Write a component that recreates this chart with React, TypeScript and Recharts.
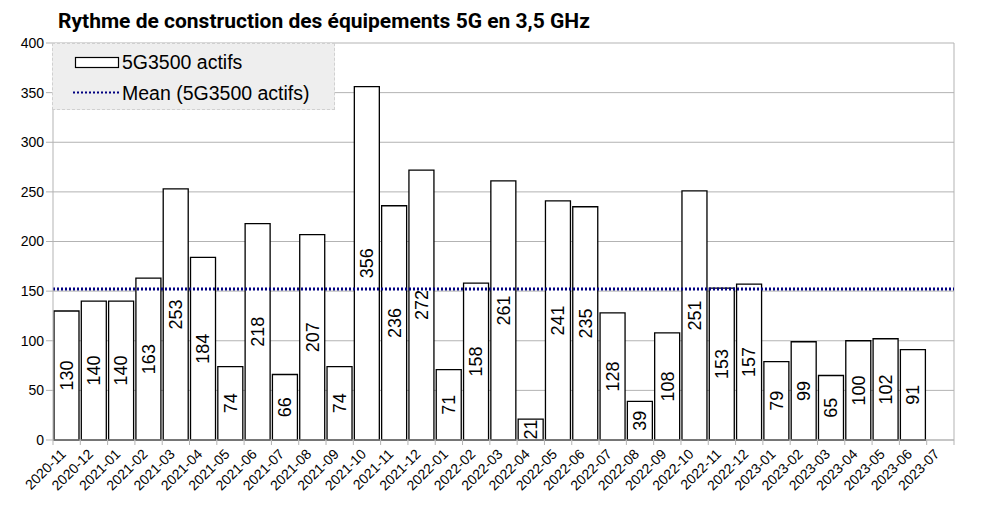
import React from 'react'
import { BarChart, Bar, XAxis, YAxis, CartesianGrid, ReferenceLine, LabelList } from 'recharts'

const MONTHS = [
  '2020-11', '2020-12',
  '2021-01', '2021-02', '2021-03', '2021-04', '2021-05', '2021-06',
  '2021-07', '2021-08', '2021-09', '2021-10', '2021-11', '2021-12',
  '2022-01', '2022-02', '2022-03', '2022-04', '2022-05', '2022-06',
  '2022-07', '2022-08', '2022-09', '2022-10', '2022-11', '2022-12',
  '2023-01', '2023-02', '2023-03', '2023-04', '2023-05', '2023-06', '2023-07',
]

// 5G3500 actifs par mois (2023-07 pas encore publié)
const ACTIFS_5G3500 = [
  130, 140,
  140, 163, 253, 184, 74, 218,
  66, 207, 74, 356, 236, 272,
  71, 158, 261, 21, 241, 235,
  128, 39, 108, 251, 153, 157,
  79, 99, 65, 100, 102, 91, null,
]

const Y_TICKS = [0, 50, 100, 150, 200, 250, 300, 350, 400]

const data = MONTHS.map((month, i) => ({ month, actifs: ACTIFS_5G3500[i] }))

const known = ACTIFS_5G3500.filter((v): v is number => v != null)
const MEAN = known.reduce((a, b) => a + b, 0) / known.length

const WIDTH = 985
const HEIGHT = 507
const PLOT_LEFT = 53
const PLOT_RIGHT = 954
const PLOT_TOP = 43
const PLOT_BOTTOM = 440
const SLOT = (PLOT_RIGHT - PLOT_LEFT) / MONTHS.length
const GRID = '#b3b3b3'
const FONT = '"Liberation Sans", Arial, sans-serif'

function MonthTick (props: any) {
  const { x, payload, index } = props
  const half = SLOT / 2
  const ty = PLOT_BOTTOM + 15
  return (
    <g>
      <line x1={x - half} x2={x - half} y1={PLOT_BOTTOM} y2={PLOT_BOTTOM + 5} stroke={GRID} />
      {index === MONTHS.length - 1 && (
        <line x1={x + half} x2={x + half} y1={PLOT_BOTTOM} y2={PLOT_BOTTOM + 5} stroke={GRID} />
      )}
      <text
        x={x}
        y={ty}
        transform={`rotate(-45, ${x}, ${ty})`}
        textAnchor="end"
        fontSize={14}
        fontFamily={FONT}
        fill="#000"
      >
        {payload.value}
      </text>
    </g>
  )
}

function LegendBox () {
  return (
    <div style={{
      position: 'absolute', left: 52, top: 43, width: 281, height: 65,
      background: '#eeeeee', border: '1px dashed #d0d0d0',
      fontFamily: FONT, fontSize: 19.5, color: '#000',
    }}>
      <svg width={50} height={65} style={{ position: 'absolute', left: 20, top: 0 }}>
        <rect x={2.5} y={13.5} width={43} height={10} fill="#fff" stroke="#000" strokeWidth={1.2} />
        <line x1={0} x2={46} y1={48.5} y2={48.5} stroke="#000080" strokeWidth={2} strokeDasharray="2 2" />
      </svg>
      <div style={{ position: 'absolute', left: 69, top: 6, lineHeight: '24px' }}>5G3500 actifs</div>
      <div style={{ position: 'absolute', left: 69, top: 37, lineHeight: '24px' }}>Mean (5G3500 actifs)</div>
    </div>
  )
}

export default function App () {
  return (
    <div style={{ position: 'absolute', left: 0, top: 0, width: WIDTH, height: HEIGHT, background: '#fff' }}>
      <div style={{
        position: 'absolute', left: 58, top: 9, fontFamily: 'Roboto, sans-serif',
        fontWeight: 700, fontSize: 21, color: '#000', whiteSpace: 'nowrap', zIndex: 2,
      }}>
        Rythme de construction des équipements 5G en 3,5 GHz
      </div>
      <BarChart
        width={WIDTH}
        height={HEIGHT}
        data={data}
        margin={{ top: PLOT_TOP, right: WIDTH - PLOT_RIGHT, bottom: 0, left: 0 }}
        barCategoryGap={1}
      >
        <CartesianGrid stroke={GRID} vertical={false} />
        <CartesianGrid stroke={GRID} horizontal={false} verticalPoints={[PLOT_RIGHT]} />
        <XAxis
          dataKey="month"
          height={HEIGHT - PLOT_BOTTOM}
          interval={0}
          tickLine={false}
          axisLine={{ stroke: GRID }}
          tick={<MonthTick />}
        />
        <YAxis
          width={PLOT_LEFT}
          domain={[0, 400]}
          ticks={Y_TICKS}
          tickSize={7}
          tickLine={{ stroke: GRID }}
          axisLine={{ stroke: GRID }}
          tick={{ fontSize: 14, fontFamily: FONT, fill: '#000' }}
        />
        <Bar dataKey="actifs" fill="#fff" stroke="#000" strokeWidth={1.3} isAnimationActive={false}>
          <LabelList
            dataKey="actifs"
            position="center"
            angle={-90}
            fill="#000"
            fontSize={18}
            fontFamily={FONT}
          />
        </Bar>
        <ReferenceLine y={MEAN} stroke="#000080" strokeWidth={3} strokeDasharray="2 2" />
      </BarChart>
      <LegendBox />
    </div>
  )
}
